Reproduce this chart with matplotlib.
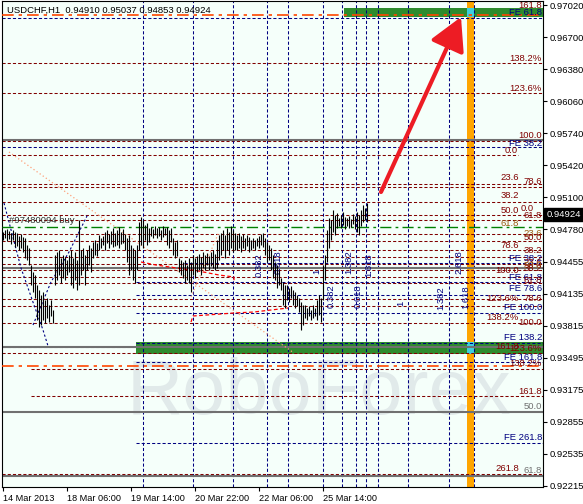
import matplotlib
matplotlib.use("Agg")
import matplotlib.pyplot as plt
from matplotlib.transforms import blended_transform_factory

plt.rcParams['font.family'] = ['Liberation Sans', 'DejaVu Sans']

# H1 bars, high / low
highs = [
    0.9475, 0.9477, 0.9478, 0.9476, 0.9474, 0.9477, 0.9475,
    0.9474, 0.9471, 0.9473, 0.9470,
    0.9469, 0.9462, 0.9459,
    0.9442, 0.9435, 0.9432,
    0.9422, 0.9417, 0.9412,
    0.9415, 0.9407, 0.9409, 0.9402, 0.9407, 0.9397,
    0.9452, 0.9455, 0.9457, 0.9449, 0.9452,
    0.9450, 0.9447, 0.9452, 0.9457, 0.9449, 0.9455, 0.9447,
    0.9487,
    0.9457, 0.9459, 0.9452, 0.9457, 0.9462, 0.9459,
    0.9465, 0.9467, 0.9464,
    0.9472, 0.9469, 0.9471, 0.9475,
    0.9477, 0.9473, 0.9476, 0.9479, 0.9474,
    0.9477, 0.9480, 0.9475, 0.9478, 0.9473,
    0.9469, 0.9472, 0.9462, 0.9459, 0.9457, 0.9462,
    0.9485, 0.9490, 0.9487, 0.9482, 0.9484, 0.9479,
    0.9480, 0.9478, 0.9481, 0.9479, 0.9480, 0.9477, 0.9481, 0.9479,
    0.9480, 0.9477, 0.9479,
    0.9469, 0.9465, 0.9467,
    0.9449, 0.9447, 0.9445,
    0.9447, 0.9442, 0.9449, 0.9445,
    0.9452, 0.9449, 0.9451, 0.9453, 0.9450,
    0.9455, 0.9452, 0.9454, 0.9451, 0.9455, 0.9457, 0.9453,
    0.9467, 0.9472, 0.9474,
    0.9477, 0.9472, 0.9479, 0.9475, 0.9481, 0.9477, 0.9474,
    0.9472, 0.9474, 0.9471, 0.9473, 0.9469, 0.9472, 0.9470, 0.9467, 0.9469, 0.9467,
    0.9469, 0.9471, 0.9473, 0.9474,
    0.9469, 0.9465, 0.9462,
    0.9459, 0.9452,
    0.9445, 0.9442, 0.9437, 0.9429,
    0.9425, 0.9422,
    0.9422, 0.9419, 0.9421, 0.9417,
    0.9415, 0.9412, 0.9409,
    0.9405, 0.9402,
    0.9402, 0.9399, 0.9401, 0.9397, 0.9402, 0.9399,
    0.9407, 0.9412, 0.9409,
    0.9442, 0.9452,
    0.9477, 0.9489, 0.9487,
    0.9497, 0.9492,
    0.9494, 0.9489, 0.9492, 0.9495, 0.9490,
    0.9489, 0.9491, 0.9488, 0.9493, 0.9491,
    0.9495, 0.9492, 0.9497,
    0.9502, 0.9499, 0.95037,
]
lows = [
    0.9467, 0.9469, 0.9466, 0.9468, 0.9463, 0.9467, 0.9460,
    0.9461, 0.9457, 0.9459, 0.9455,
    0.9449, 0.9447, 0.9442,
    0.9422, 0.9415, 0.9409,
    0.9387, 0.9380, 0.9382,
    0.9387, 0.9384, 0.9389, 0.9385, 0.9391, 0.9384,
    0.9422, 0.9427, 0.9432, 0.9424, 0.9429,
    0.9427, 0.9432, 0.9435, 0.9422, 0.9419, 0.9427, 0.9417,
    0.9422,
    0.9432, 0.9437, 0.9422, 0.9437, 0.9442, 0.9435,
    0.9449, 0.9452, 0.9451,
    0.9457, 0.9459, 0.9462, 0.9457,
    0.9464, 0.9459, 0.9463, 0.9460, 0.9461,
    0.9462, 0.9459, 0.9463, 0.9464, 0.9457,
    0.9445, 0.9432, 0.9437, 0.9427, 0.9424, 0.9437,
    0.9457, 0.9462, 0.9459, 0.9467, 0.9462, 0.9465,
    0.9471, 0.9469, 0.9472, 0.9469, 0.9471, 0.9467, 0.9470, 0.9472,
    0.9462, 0.9459, 0.9465,
    0.9452, 0.9449, 0.9451,
    0.9435, 0.9432, 0.9429,
    0.9424, 0.9427, 0.9424, 0.9415,
    0.9432, 0.9429, 0.9435, 0.9437, 0.9432,
    0.9439, 0.9437, 0.9442, 0.9437, 0.9441, 0.9439, 0.9437,
    0.9439, 0.9447, 0.9452,
    0.9457, 0.9449, 0.9457, 0.9452, 0.9459, 0.9455, 0.9457,
    0.9457, 0.9459, 0.9455, 0.9459, 0.9457, 0.9461, 0.9455, 0.9457, 0.9459, 0.9457,
    0.9461, 0.9459, 0.9462, 0.9460,
    0.9452, 0.9445, 0.9447,
    0.9437, 0.9429,
    0.9427, 0.9419, 0.9422, 0.9417,
    0.9402, 0.9399,
    0.9407, 0.9405, 0.9409, 0.9402,
    0.9399, 0.9401, 0.9395,
    0.9377, 0.9382,
    0.9389, 0.9387, 0.9391, 0.9387, 0.9389, 0.9391,
    0.9387, 0.9392, 0.9385,
    0.9407, 0.9427,
    0.9445, 0.9459, 0.9467,
    0.9475, 0.9472,
    0.9479, 0.9481, 0.9479, 0.9482, 0.9478,
    0.9481, 0.9479, 0.9480, 0.9483, 0.9478,
    0.9475, 0.9472, 0.9481,
    0.9485, 0.9487, 0.94853,
]

title = "USDCHF,H1  0.94910 0.95037 0.94853 0.94924"
last_price = 0.94924
order_label = "#97480094 buy"
order_price = 0.9480

date_ticks = [0, 32, 64, 96, 128, 160]
date_labels = ["14 Mar 2013", "18 Mar 06:00", "19 Mar 14:00",
               "20 Mar 22:00", "22 Mar 06:00", "25 Mar 14:00"]
price_ticks = [0.97020, 0.96700, 0.96380, 0.96060, 0.95740, 0.95420, 0.95100,
               0.94780, 0.94455, 0.94135, 0.93815, 0.93495, 0.93175, 0.92855,
               0.92535, 0.92215]

# fibo levels
maroon_levels = [0.9644, 0.9614, 0.9566, 0.9552, 0.9523, 0.9520, 0.9505, 0.9492,
                 0.9487, 0.9473, 0.9466, 0.9457, 0.9450, 0.9443, 0.9437, 0.9430,
                 0.9424, 0.9408, 0.9401, 0.9384, 0.9360, 0.9354, 0.9338, 0.9311,
                 0.9233]
maroon_from = [-0.5] * 22 + [14, 14, -0.5]
maroon_to = [270, 270, 270, 257.5] + [270] * 21
navy_levels = [0.9689, 0.9560, 0.9444, 0.9425, 0.9412, 0.9394, 0.9364, 0.9345, 0.9264]
navy_from = [-0.5, -0.5, 90.5, 66.5, 66.5, 66.5, 66.5, 66.5, 66.5]
gray_levels = [0.9567, 0.9439, 0.9360, 0.9295, 0.9231]
stop_levels = [0.9692, 0.9341]

time_zones = [70, 95, 115, 132, 142.5, 160, 169.5, 176.5, 181.5, 187.5, 202.5, 223, 235.5]
zone_text = ["0.382", "0.618", "1", "1.382", "1.618", "0.382", "0.618",
             "2.618", "1.382", "1.618", "1"]
zone_x = [128, 137.5, 157, 173, 183, 164, 177.5, 228, 219, 231.5, 199]
zone_y = [0.9442, 0.9445, 0.9436, 0.9445, 0.9442, 0.9411, 0.9411,
          0.9445, 0.9409, 0.9410, 0.9404]

# zones (green) and time band (orange)
band_from = [170.5, 66.5]
band_lo = [0.9690, 0.9353]
band_hi = [0.9699, 0.9365]
time_band = (232, 235.5)

# level captions: text, price, colour, right edge
cap_text = ["161.8", "FE 61.8", "138.2%", "123.6%", "100.0", "FE 38.2", "0.0",
            "23.6", "78.6", "38.2", "50.0", "0.0", "61.8", "61.8", "23.6", "50.0",
            "78.6", "38.2", "FE 38.2", "23.6", "50.0", "38.2", "100.0", "FE 61.8",
            "61.8", "FE 78.6", "123.6%", "78.6", "FE 100.0", "138.2%", "100.0",
            "FE 138.2", "161.8", "123.6%", "FE 161.8", "138.2%", "161.8", "50.0",
            "FE 261.8", "261.8", "61.8"]
cap_price = [0.9702, 0.9695, 0.9649, 0.9619, 0.9572, 0.9564, 0.9557,
             0.9530, 0.9526, 0.9512, 0.9497, 0.9499, 0.9492, 0.9484, 0.9474, 0.9470,
             0.9462, 0.9457, 0.9449, 0.9445, 0.9442, 0.9439, 0.9437, 0.9430,
             0.9427, 0.9419, 0.9409, 0.9409, 0.9400, 0.9390, 0.9385,
             0.9370, 0.9361, 0.9359, 0.9350, 0.9344, 0.9316, 0.9301,
             0.9270, 0.9239, 0.9237]
cap_kind = ["m", "n", "m", "m", "m", "n", "m",
            "m", "m", "m", "m", "m", "m", "b", "b", "m",
            "m", "m", "n", "m", "b", "m", "m", "n",
            "m", "n", "m", "m", "n", "m", "m",
            "n", "m", "m", "n", "m", "m", "g",
            "n", "m", "g"]
cap_right = [269.5, 269.5, 269.5, 269.5, 269.5, 269.5, 257.5,
             258, 269.5, 258, 258, 265.5, 269.5, 258, 269.5, 269.5,
             258, 269.5, 269.5, 269.5, 269.5, 269.5, 258, 269.5,
             269.5, 269.5, 258, 269.5, 269.5, 258, 269.5,
             269.5, 258, 269.5, 269.5, 269.5, 269.5, 269.5,
             269.5, 258, 269.5]

# drawn objects
fan_x = [3, 145.5]
fan_y = [0.9555, 0.9354]
fan2_x = [94, 108]
fan2_y = [0.9410, 0.9475]
arc1_x = [0.5, 9, 15.5, 20, 22.5]
arc1_y = [0.9504, 0.9439, 0.9402, 0.9377, 0.9361]
arc2_x = [15, 24, 33, 42.5]
arc2_y = [0.9382, 0.9425, 0.9455, 0.9493]
trail1_x = [69, 76.5, 90, 95, 108, 115.5, 115.5]
trail1_y = [0.9445, 0.9442, 0.9438, 0.9437, 0.9432, 0.9430, 0.9426]
trail2_x = [94, 95, 115.5, 125.5, 142.5]
trail2_y = [0.9385, 0.9391, 0.9394, 0.9395, 0.9399]
arrow_from = (189, 0.9515)
arrow_to = (229, 0.9690)

colors = {"m": "#800000", "n": "#000080", "g": "#707070", "b": "#9A5A10"}

fig = plt.figure(figsize=(5.83, 5.04), dpi=100)
ax = fig.add_axes([2 / 583, 17 / 504, 541 / 583, 486 / 504])
ax.set_facecolor("#F5FFFA")
ax.set_xlim(-0.5, 270)
ax.set_ylim(0.9220, 0.9706)

# watermark
ax.text(158, 0.9314, "RoboForex", fontsize=56, color="#E1EAEA",
        ha="center", va="center", zorder=0.2)

for x0, lo, hi in zip(band_from, band_lo, band_hi):
    ax.fill_between([x0, 270], lo, hi, color="#2E8B2E", lw=0, zorder=1)
ax.axvspan(time_band[0], time_band[1], color="#FFA500", lw=0, zorder=1.2)
for lo, hi in zip(band_lo, band_hi):
    ax.fill_between(time_band, lo, hi, color="#3CD0E0", lw=0, zorder=1.3)

dash = (0, (3, 2))
for lev, a, b in zip(maroon_levels, maroon_from, maroon_to):
    ax.plot([a, b], [lev, lev], color="#800000", lw=0.75, ls=dash, zorder=2)
for lev, a in zip(navy_levels, navy_from):
    ax.plot([a, 270], [lev, lev], color="#000080", lw=0.75, ls=dash, zorder=2)
for t in time_zones:
    ax.axvline(t, color="#000080", lw=0.75, ls=dash, zorder=2)
for lev in gray_levels:
    ax.axhline(lev, color="#707070", lw=1.5, zorder=2.5)
for lev in stop_levels:
    ax.axhline(lev, color="#FF4500", lw=1.2, ls=(0, (7, 3, 2, 3)), zorder=2.6)
ax.axhline(order_price, color="#008000", lw=1.0, ls=(0, (8, 3, 2, 3)), zorder=2.6)

ax.plot(fan_x, fan_y, color="#FFA07A", lw=0.9, ls=(0, (1, 2)), zorder=3)
ax.plot(fan2_x, fan2_y, color="#FFA07A", lw=0.9, ls=(0, (1, 2)), zorder=3)
ax.plot(arc1_x, arc1_y, color="#000080", lw=0.8, ls=(0, (2, 2)), zorder=3)
ax.plot(arc2_x, arc2_y, color="#000080", lw=0.8, ls=(0, (2, 2)), zorder=3)
ax.plot(trail1_x, trail1_y, color="#FF0000", lw=0.9, ls=dash, zorder=3)
ax.plot(trail2_x, trail2_y, color="#FF0000", lw=0.9, ls=dash, zorder=3)

# price bars
ax.vlines(range(len(highs)), lows, highs, color="black", lw=0.8, zorder=6)

ax.annotate("", xy=arrow_to, xytext=arrow_from,
            arrowprops=dict(arrowstyle="-|>,head_length=2.0,head_width=1.1",
                            color="#ED1C24", lw=3, shrinkA=0, shrinkB=0),
            zorder=7)

for s, p, k, r in zip(cap_text, cap_price, cap_kind, cap_right):
    ax.text(r, p, s, ha="right", va="center", fontsize=6.8, color=colors[k], zorder=5)
for s, x, y in zip(zone_text, zone_x, zone_y):
    ax.text(x, y, s, rotation=90, ha="center", va="center", fontsize=6.8,
            color="#000080", zorder=5)

ax.text(3, order_price + 0.0007, order_label, fontsize=6.8, color="#303030",
        va="center", zorder=7)
ax.text(0.009, 0.981, title, transform=ax.transAxes, fontsize=6.8,
        color="black", va="center", zorder=8)

# axes
ax.yaxis.tick_right()
ax.set_yticks(price_ticks)
ax.set_yticklabels(["%.5f" % v for v in price_ticks])
ax.tick_params(axis="y", length=3, pad=2, labelsize=6.8, width=0.8)
ax.set_xticks(date_ticks)
ax.set_xticklabels(date_labels)
ax.tick_params(axis="x", length=3, pad=2, labelsize=6.6, width=0.8)
for lbl in ax.get_xticklabels():
    lbl.set_ha("left")
for sp in ax.spines.values():
    sp.set_color("black")
    sp.set_linewidth(0.8)

tr = blended_transform_factory(ax.transAxes, ax.transData)
ax.text(1.006, last_price, "%.5f" % last_price, transform=tr, color="white",
        fontsize=6.8, va="center", ha="left", clip_on=False,
        bbox=dict(boxstyle="square,pad=0.25", fc="black", ec="black"))

fig.savefig("out.png", dpi=100)
